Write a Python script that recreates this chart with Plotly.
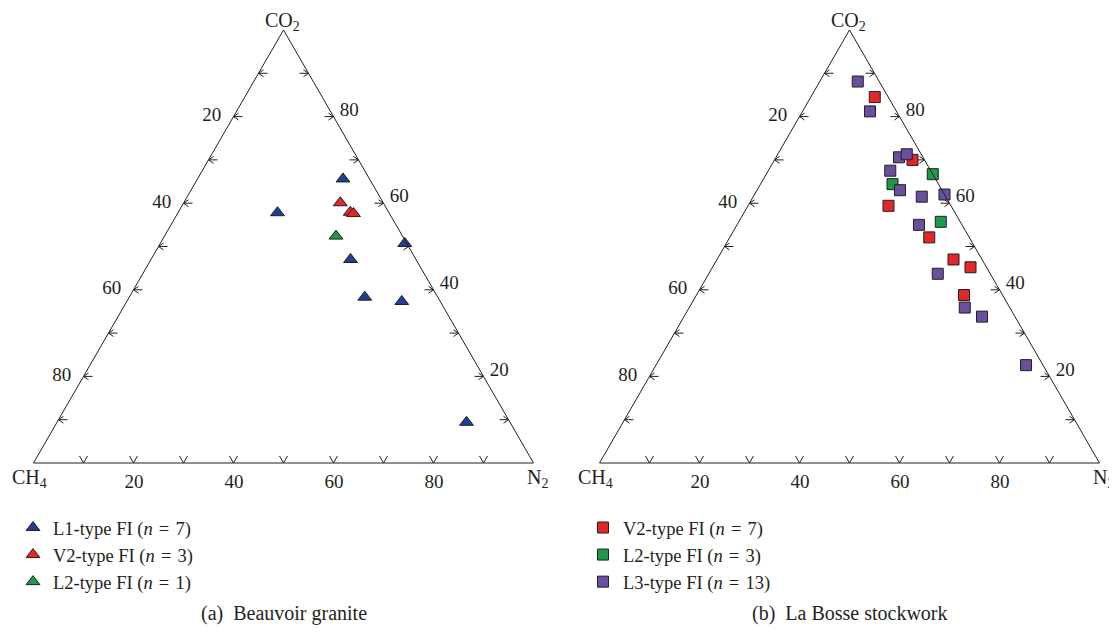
import math
import plotly.graph_objects as go

# ---------------- data (percent) ----------------
# (a) Beauvoir granite
a_L1_co2 = [65.6, 57.8, 50.7, 47.0, 38.3, 37.3, 9.4]
a_L1_ch4 = [5.3, 22.3, 0.4, 13.1, 14.6, 7.7, 8.7]
a_L1_n2 = [29.1, 19.9, 48.9, 39.9, 47.1, 55.0, 81.9]

a_V2_co2 = [60.1, 57.9, 57.6]
a_V2_ch4 = [8.6, 7.7, 7.2]
a_V2_n2 = [31.3, 34.4, 35.2]

a_L2_co2 = [52.4]
a_L2_ch4 = [13.3]
a_L2_n2 = [34.3]

# (b) La Bosse stockwork
b_V2_co2 = [84.5, 70.0, 59.4, 52.1, 47.0, 45.2, 38.8]
b_V2_ch4 = [2.7, 2.4, 12.5, 8.0, 5.7, 3.2, 7.7]
b_V2_n2 = [12.8, 27.6, 28.1, 39.9, 47.3, 51.6, 53.5]

b_L2_co2 = [66.7, 64.4, 55.7]
b_L2_ch4 = [0.0, 9.2, 3.9]
b_L2_n2 = [33.3, 26.4, 40.4]

b_L3_co2 = [88.1, 81.2, 70.6, 71.3, 67.5, 63.0, 61.5, 62.0, 55.0, 43.7, 35.9, 33.8, 22.6]
b_L3_ch4 = [4.3, 5.3, 4.8, 2.9, 8.1, 8.4, 4.8, 0.0, 8.6, 10.5, 9.0, 6.6, 3.4]
b_L3_n2 = [7.6, 13.5, 24.6, 25.8, 24.4, 28.6, 33.7, 38.0, 36.4, 45.8, 55.1, 59.6, 74.0]

tick_steps = [10, 20, 30, 40, 50, 60, 70, 80, 90]
label_vals = [20, 40, 60, 80]
corner_labels = ["CO<sub>2</sub>", "CH<sub>4</sub>", "N<sub>2</sub>"]
captions = ["(a)&nbsp;&nbsp;Beauvoir granite", "(b)&nbsp;&nbsp;La Bosse stockwork"]

# ---------------- style ----------------
FONT = "Liberation Serif, Times New Roman, serif"
INK = "#231f20"
BLUE = "#1d3f94"
RED = "#e4262b"
GREEN = "#1b9a4b"
PURPLE = "#6b4f9f"

# the page has an 8px body margin; size the figure so it fills the 1117x637 window
OFF = 8
W, Hpx = 1117 - OFF, 637 - OFF
SIDE = 500.0  # triangle side in px
TRI_H = SIDE * math.sqrt(3) / 2


def px_x(X):
    return (X - OFF) / W


def px_y(Y):
    return 1 - (Y - OFF) / Hpx


fig = go.Figure()

# ---------------- tick chevrons (built from the tick list) ----------------
HT = math.sqrt(3) / 2 * 100
PX = 100.0 / SIDE


def to_tern(x, y):
    a = y / HT * 100
    c = x - a / 2
    b = 100 - a - c
    return a, b, c


def chevron_path():
    pts = []
    for t in tick_steps:
        # left edge, CH4 = t
        a = 100 - t
        px, py = a / 2, a * HT / 100
        pts += [(px + 5 * PX, py + 3.4 * PX), (px, py), (px + 5 * PX, py - 3.4 * PX), None,
                (px, py), (px + 9 * PX, py), None]
        # right edge, CO2 = t
        px, py = 100 - t / 2, t * HT / 100
        pts += [(px - 5 * PX, py + 3.4 * PX), (px, py), (px - 5 * PX, py - 3.4 * PX), None,
                (px, py), (px - 9 * PX, py), None]
        # bottom edge, N2 = t
        px, py = t, 0.0
        pts += [(px - 4 * PX, 7 * PX), (px, py), (px + 4 * PX, 7 * PX), None]
    A, B, C = [], [], []
    for p in pts:
        if p is None:
            A.append(None); B.append(None); C.append(None)
        else:
            a, b, c = to_tern(*p)
            A.append(a); B.append(b); C.append(c)
    return A, B, C


for sp in ["ternary", "ternary2"]:
    A, B, C = chevron_path()
    fig.add_trace(go.Scatterternary(a=A, b=B, c=C, mode="lines", subplot=sp,
                                    line=dict(color=INK, width=1), hoverinfo="skip",
                                    showlegend=False, connectgaps=False))


def add_group(subplot, legend, name, co2, ch4, n2, color, symbol, size):
    fig.add_trace(go.Scatterternary(
        a=co2, b=ch4, c=n2, mode="markers", name=name, subplot=subplot, legend=legend,
        marker=dict(symbol=symbol, size=size, color=color, line=dict(color=INK, width=1)),
        cliponaxis=False))


SP = "&#8196;"  # slightly wider space around "="
add_group("ternary", "legend", f"L1-type FI (<i>n</i>{SP}={SP}7)", a_L1_co2, a_L1_ch4, a_L1_n2, BLUE, "triangle-up", 12)
add_group("ternary", "legend", f"V2-type FI (<i>n</i>{SP}={SP}3)", a_V2_co2, a_V2_ch4, a_V2_n2, RED, "triangle-up", 12)
add_group("ternary", "legend", f"L2-type FI (<i>n</i>{SP}={SP}1)", a_L2_co2, a_L2_ch4, a_L2_n2, GREEN, "triangle-up", 12)

add_group("ternary2", "legend2", f"V2-type FI (<i>n</i>{SP}={SP}7)", b_V2_co2, b_V2_ch4, b_V2_n2, RED, "square", 11)
add_group("ternary2", "legend2", f"L2-type FI (<i>n</i>{SP}={SP}3)", b_L2_co2, b_L2_ch4, b_L2_n2, GREEN, "square", 11)
add_group("ternary2", "legend2", f"L3-type FI (<i>n</i>{SP}={SP}13)", b_L3_co2, b_L3_ch4, b_L3_n2, PURPLE, "square", 11)


def axis(vals, texts, ticklen):
    return dict(
        title=dict(text=""),
        showgrid=False, showline=True, linecolor=INK, linewidth=1,
        ticks="outside", ticklen=ticklen, tickcolor="rgba(0,0,0,0)",
        tickmode="array", tickvals=vals, ticktext=texts,
        tickfont=dict(family=FONT, size=19, color=INK),
    )


Y_BOTTOM = 463.0  # page px of the triangle base


def ternary_layout(cx):
    x0 = px_x(cx - SIDE / 2)
    x1 = px_x(cx + SIDE / 2)
    y0 = px_y(Y_BOTTOM)
    y1 = px_y(Y_BOTTOM - TRI_H)
    texts = [str(100 - v) for v in label_vals]
    return dict(
        sum=100, bgcolor="white",
        domain=dict(x=[x0, x1], y=[y0, y1]),
        aaxis=axis(label_vals, texts, 9),
        baxis=axis(label_vals, texts, 1),
        caxis=axis(label_vals, texts, 6),
    )


centers = [283.5, 849.5]
annotations = []
for cx, cap in zip(centers, captions):
    spots = [(cx - 1.5, 21), (cx - SIDE / 2 - 4, 478), (cx + SIDE / 2 + 4, 478)]
    for (X, Y), lab in zip(spots, corner_labels):
        annotations.append(dict(text=lab, x=px_x(X), y=px_y(Y), xref="paper", yref="paper",
                                showarrow=False, xanchor="center", yanchor="middle",
                                font=dict(family=FONT, size=20, color=INK)))
    annotations.append(dict(text=cap, x=px_x(cx), y=px_y(613), xref="paper", yref="paper",
                            showarrow=False, xanchor="center", yanchor="middle",
                            font=dict(family=FONT, size=20, color=INK)))

legend_common = dict(xanchor="left", yanchor="top", bgcolor="rgba(0,0,0,0)",
                     font=dict(family=FONT, size=18.5, color=INK), tracegroupgap=0,
                     borderwidth=0)

fig.update_layout(
    width=W, height=Hpx,
    margin=dict(l=0, r=0, t=0, b=0),
    paper_bgcolor="white",
    showlegend=True,
    ternary=ternary_layout(centers[0]),
    ternary2=ternary_layout(centers[1]),
    legend=dict(x=px_x(13), y=px_y(509), **legend_common),
    legend2=dict(x=px_x(583), y=px_y(509), **legend_common),
    annotations=annotations,
)

fig.write_html("out.html")
